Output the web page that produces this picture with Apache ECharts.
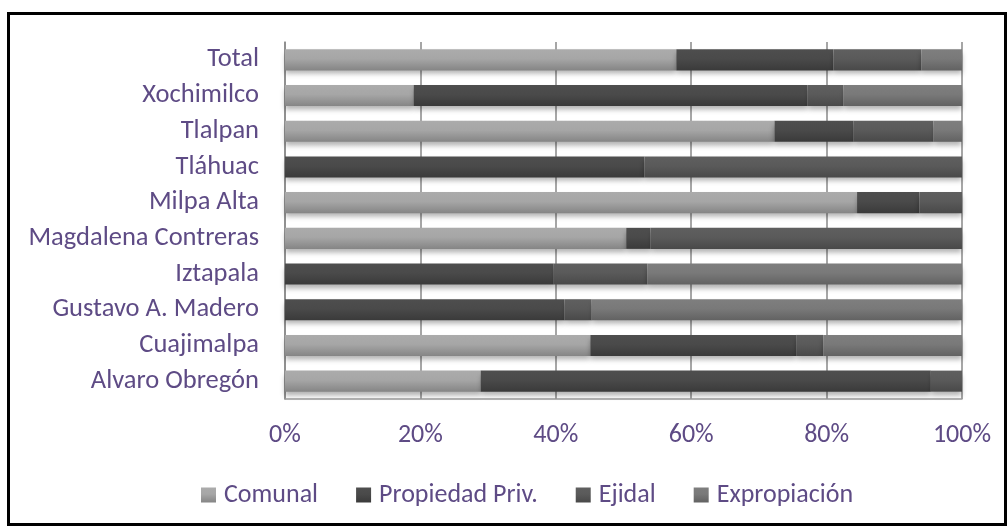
<!DOCTYPE html>
<html>
<head>
<meta charset="utf-8">
<script src="https://cdn.jsdelivr.net/npm/echarts@6/dist/echarts.min.js"></script>
<style>
html,body{margin:0;padding:0;background:#fff;}
#c{width:1008px;height:527px;}
</style>
</head>
<body>
<div id="c"></div>
<script>
const categories = ['Total','Xochimilco','Tlalpan','Tláhuac','Milpa Alta','Magdalena Contreras','Iztapala','Gustavo A. Madero','Cuajimalpa','Alvaro Obregón'];
const seriesNames = ['Comunal','Propiedad Priv.','Ejidal','Expropiación'];
const comunal   = [57.8, 19.0, 72.3, 0,    84.5, 50.4, 0,    0,    45.1, 28.9];
const propiedad = [23.2, 58.2, 11.7, 53.1, 9.2,  3.6,  39.7, 41.3, 30.4, 66.5];
const ejidal    = [13.0, 5.3,  11.8, 46.9, 6.3,  46.0, 13.8, 4.0,  4.0,  4.6];
const exprop    = [6.0,  17.5, 4.2,  0,    0,    0,    46.5, 54.7, 20.5, 0];
const xTicks = [0, 20, 40, 60, 80, 100];

const txt = '#5e4b85';
const font = 'Carlito, Lato, sans-serif';
const grads = [
  ['#ababab', '#a6a6a6', '#858585'],
  ['#4e4e4e', '#4a4a4a', '#3a3a3a'],
  ['#5f5f5f', '#5a5a5a', '#494949'],
  ['#7e7e7e', '#797979', '#626262']
];
function grad(g){
  return new echarts.graphic.LinearGradient(0,0,0,1,[
    {offset:0,color:g[0]},{offset:0.45,color:g[1]},{offset:1,color:g[2]}
  ]);
}
const datas = [comunal, propiedad, ejidal, exprop];
const chart = echarts.init(document.getElementById('c'), null, {renderer:'canvas'});
chart.setOption({
  animation:false,
  backgroundColor:'#fff',
  grid:{left:285, right:46, top:42, bottom:128, containLabel:false},
  legend:{
    top:477, left:196,
    itemWidth:15, itemHeight:15, itemGap:38,
    icon:'rect',
    textStyle:{color:txt, fontSize:26, fontFamily:font, padding:[0,0,0,3]},
    data:seriesNames
  },
  xAxis:{
    type:'value', min:xTicks[0], max:xTicks[xTicks.length-1], interval:20,
    axisLabel:{formatter:'{value}%', color:txt, fontSize:26, fontFamily:font, margin:23},
    axisLine:{show:true, lineStyle:{color:'#9a9a9a', width:1.5}},
    axisTick:{show:false},
    splitLine:{show:true, lineStyle:{color:'#888', width:1.5}}
  },
  yAxis:{
    type:'category', data:categories, inverse:true,
    axisLabel:{color:txt, fontSize:26.5, fontFamily:font, margin:26},
    axisLine:{show:true, lineStyle:{color:'#888', width:1.5}},
    axisTick:{show:false}
  },
  series: seriesNames.map((n,i)=>({
    name:n, type:'bar', stack:'s', data:datas[i],
    barCategoryGap:'41%',
    itemStyle:{color:grad(grads[i]), shadowColor:'rgba(0,0,0,0.3)', shadowBlur:5, shadowOffsetY:4}
  })),
  graphic:[{
    type:'rect', silent:true, z:100,
    shape:{x:8.5, y:13.5, width:997, height:511},
    style:{fill:'none', stroke:'#000', lineWidth:3}
  }]
});
</script>
</body>
</html>
